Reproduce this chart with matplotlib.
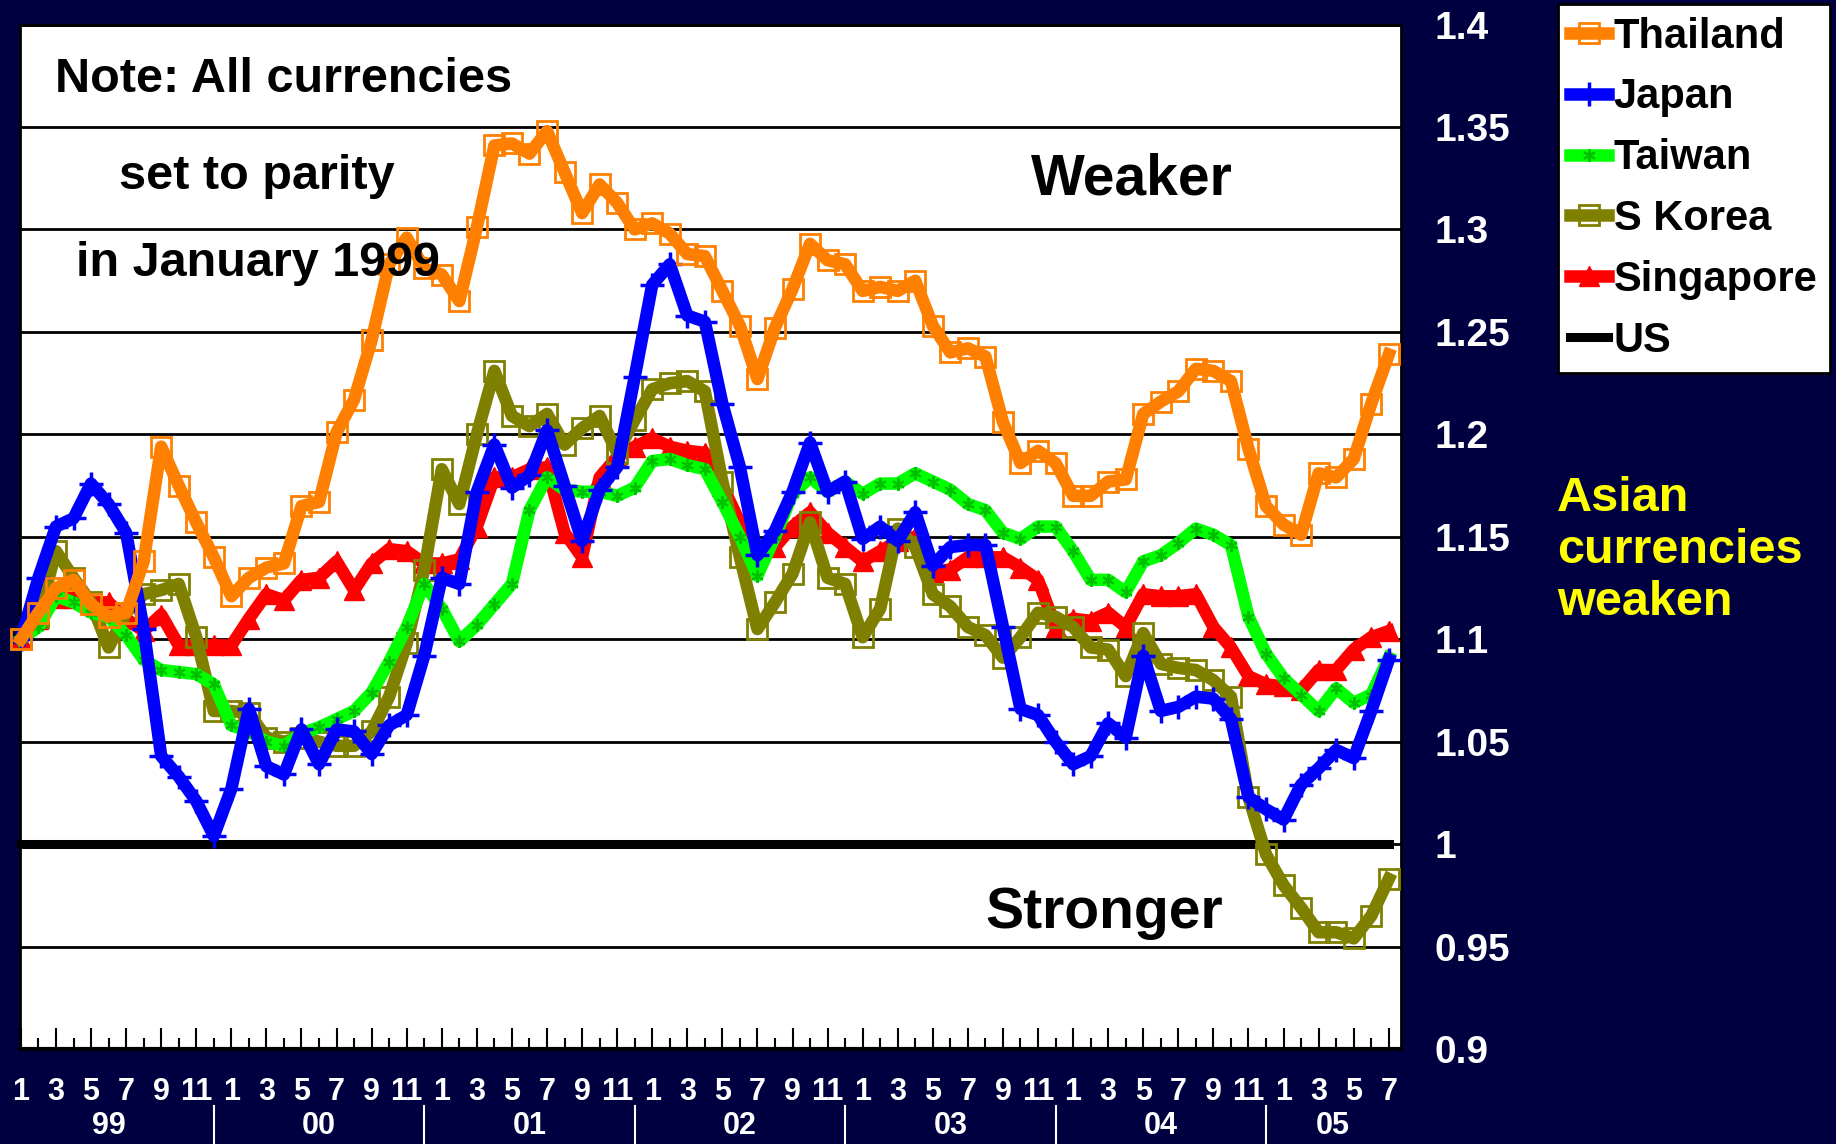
import numpy as np
import matplotlib
matplotlib.use('Agg')
import matplotlib.pyplot as plt
import matplotlib.transforms as mtransforms

plt.rcParams['font.family'] = ['Liberation Sans', 'DejaVu Sans']
plt.rcParams['font.weight'] = 'bold'

# monthly index, Jan 1999 = parity (plotted at 1.1), through Jul 2005
month_labels = ['1', '3', '5', '7', '9', '11']
year_labels = ['99', '00', '01', '02', '03', '04', '05']
year_label_pos = [5, 17, 29, 41, 53, 65, 74.8]
ytick_vals = [0.9, 0.95, 1.0, 1.05, 1.1, 1.15, 1.2, 1.25, 1.3, 1.35, 1.4]
ytick_labels = ['0.9', '0.95', '1', '1.05', '1.1', '1.15', '1.2', '1.25', '1.3', '1.35', '1.4']

thailand = [1.100, 1.113, 1.125, 1.129, 1.117, 1.111, 1.113, 1.138, 1.194, 1.175,
            1.157, 1.140, 1.121, 1.130, 1.135, 1.137, 1.165, 1.167, 1.201, 1.217,
            1.246, 1.283, 1.296, 1.281, 1.278, 1.265, 1.301, 1.341, 1.342, 1.337,
            1.348, 1.328, 1.308, 1.322, 1.313, 1.300, 1.303, 1.298, 1.288, 1.287,
            1.270, 1.253, 1.227, 1.252, 1.271, 1.293, 1.285, 1.283, 1.270, 1.272,
            1.270, 1.275, 1.253, 1.240, 1.242, 1.238, 1.206, 1.186, 1.192, 1.186,
            1.170, 1.170, 1.177, 1.178, 1.210, 1.216, 1.221, 1.232, 1.231, 1.226,
            1.193, 1.165, 1.156, 1.151, 1.181, 1.179, 1.188, 1.215, 1.239]

japan = [1.100, 1.130, 1.155, 1.159, 1.176, 1.166, 1.152, 1.105, 1.043, 1.033,
         1.021, 1.004, 1.027, 1.066, 1.038, 1.034, 1.056, 1.039, 1.056, 1.055,
         1.044, 1.058, 1.063, 1.092, 1.130, 1.127, 1.172, 1.195, 1.174, 1.180,
         1.202, 1.175, 1.148, 1.173, 1.184, 1.228, 1.273, 1.283, 1.258, 1.255,
         1.215, 1.184, 1.141, 1.153, 1.172, 1.196, 1.172, 1.177, 1.149, 1.155,
         1.148, 1.162, 1.136, 1.145, 1.146, 1.146, 1.106, 1.066, 1.063, 1.050,
         1.039, 1.043, 1.059, 1.052, 1.092, 1.065, 1.067, 1.072, 1.071, 1.061,
         1.023, 1.017, 1.012, 1.029, 1.037, 1.046, 1.042, 1.065, 1.090]

taiwan = [1.100, 1.106, 1.121, 1.118, 1.113, 1.111, 1.102, 1.090, 1.085, 1.084,
          1.083, 1.078, 1.058, 1.055, 1.050, 1.048, 1.054, 1.057, 1.061, 1.065,
          1.074, 1.089, 1.106, 1.127, 1.115, 1.099, 1.107, 1.117, 1.127, 1.163,
          1.179, 1.173, 1.172, 1.172, 1.170, 1.174, 1.187, 1.188, 1.185, 1.183,
          1.167, 1.150, 1.131, 1.150, 1.171, 1.179, 1.172, 1.177, 1.171, 1.176,
          1.176, 1.181, 1.177, 1.173, 1.166, 1.163, 1.152, 1.149, 1.155, 1.155,
          1.143, 1.129, 1.129, 1.123, 1.138, 1.141, 1.147, 1.154, 1.151, 1.146,
          1.111, 1.093, 1.081, 1.073, 1.065, 1.076, 1.069, 1.073, 1.091]

s_korea = [1.100, 1.111, 1.143, 1.130, 1.118, 1.096, 1.113, 1.122, 1.124, 1.127,
           1.101, 1.065, 1.065, 1.064, 1.052, 1.050, 1.052, 1.050, 1.048, 1.048,
           1.055, 1.072, 1.098, 1.134, 1.183, 1.166, 1.200, 1.231, 1.209, 1.204,
           1.210, 1.195, 1.203, 1.209, 1.191, 1.207, 1.222, 1.225, 1.226, 1.221,
           1.177, 1.140, 1.105, 1.118, 1.132, 1.157, 1.130, 1.127, 1.101, 1.115,
           1.154, 1.145, 1.122, 1.116, 1.106, 1.102, 1.091, 1.101, 1.113, 1.111,
           1.106, 1.096, 1.095, 1.082, 1.103, 1.088, 1.086, 1.085, 1.080, 1.072,
           1.023, 0.995, 0.980, 0.969, 0.957, 0.957, 0.954, 0.965, 0.983]

singapore = [1.100, 1.110, 1.120, 1.120, 1.118, 1.118, 1.110, 1.104, 1.112, 1.097,
             1.097, 1.097, 1.097, 1.110, 1.122, 1.119, 1.129, 1.130, 1.138, 1.124,
             1.137, 1.144, 1.143, 1.137, 1.137, 1.139, 1.155, 1.179, 1.179, 1.183,
             1.184, 1.152, 1.140, 1.179, 1.189, 1.194, 1.198, 1.194, 1.192, 1.191,
             1.175, 1.157, 1.143, 1.145, 1.155, 1.162, 1.152, 1.145, 1.138, 1.143,
             1.148, 1.150, 1.133, 1.134, 1.140, 1.140, 1.140, 1.135, 1.129, 1.106,
             1.110, 1.109, 1.113, 1.106, 1.122, 1.121, 1.121, 1.122, 1.106, 1.096,
             1.082, 1.078, 1.077, 1.075, 1.085, 1.085, 1.095, 1.101, 1.104]

us = [1.0] * 79

bg = '#000040'
x = np.arange(len(thailand))

fig = plt.figure(figsize=(18.36, 11.44), dpi=100, facecolor=bg)
ax = fig.add_axes([0.0109, 0.083, 0.7522, 0.8955])
ax.set_facecolor('white')

lw = 9
h_us, = ax.plot(x, us, color='black', lw=6.5, zorder=2, clip_on=False)
h_sg, = ax.plot(x, singapore, color='#FF0000', lw=lw, marker='^', ms=14,
                mfc='#FF0000', mec='#FF0000', zorder=3, clip_on=False)
h_kr, = ax.plot(x, s_korea, color='#808000', lw=lw, marker='s', ms=14,
                mfc='none', mec='#808000', mew=2, zorder=4, clip_on=False)
h_tw, = ax.plot(x, taiwan, color='#00FF00', lw=lw, marker=(6, 2, 0), ms=9,
                mec='#00C000', mew=1.5, zorder=5, clip_on=False)
h_jp, = ax.plot(x, japan, color='#0000FF', lw=lw, marker='+', ms=17,
                mew=2.5, zorder=6, clip_on=False)
h_th, = ax.plot(x, thailand, color='#FF8000', lw=lw, marker='s', ms=14,
                mfc='none', mec='#FF8000', mew=2, zorder=7, clip_on=False)

ax.set_xlim(-0.05, 78.7)
ax.set_ylim(0.9, 1.4)

# y axis on the right, white labels
ax.yaxis.tick_right()
ax.set_yticks(ytick_vals)
ax.set_yticklabels(ytick_labels)
ax.tick_params(axis='y', length=0, pad=24, labelsize=28, labelcolor='white')
for t in ax.get_yticklabels():
    t.set_fontweight('bold')
ax.yaxis.grid(True, color='black', lw=2)
ax.set_axisbelow(True)

# x axis: monthly ticks, labels on odd months
ax.set_xticks(x[::2])
ax.set_xticklabels([month_labels[i % 6] for i in range(len(x[::2]))],
                   family=['Liberation Sans Narrow', 'Liberation Sans'])
ax.set_xticks(x[1::2], minor=True)
ax.tick_params(axis='x', which='major', direction='in', length=15, width=1.5,
               color='black', pad=20, labelsize=22, labelcolor='white')
ax.tick_params(axis='x', which='minor', direction='in', length=8, width=1.5,
               color='black')

for s in ax.spines.values():
    s.set_color('black')
    s.set_linewidth(2)
ax.spines['bottom'].set_linewidth(3)

# year labels and separators below the month labels
trans = mtransforms.blended_transform_factory(ax.transData, ax.transAxes)
for k in range(6):
    xs = 11 + 12 * k
    ax.plot([xs, xs], [-0.056, -0.093], transform=trans, color='white',
            lw=1.5, clip_on=False)
for pos, lab in zip(year_label_pos, year_labels):
    ax.text(pos, -0.075, lab, transform=trans, ha='center', va='center',
            color='white', fontsize=22, fontweight='bold',
            family=['Liberation Sans Narrow', 'Liberation Sans'])

# annotations inside the plot
ax.text(1.95, 1.373, 'Note: All currencies', fontsize=35, fontweight='bold',
        ha='left', va='center', zorder=10)
ax.text(5.6, 1.326, 'set to parity', fontsize=35, fontweight='bold',
        ha='left', va='center', zorder=10)
ax.text(3.15, 1.2836, 'in January 1999', fontsize=35, fontweight='bold',
        ha='left', va='center', zorder=10)
ax.text(57.6, 1.3246, 'Weaker', fontsize=41, fontweight='bold',
        ha='left', va='center', zorder=10)
ax.text(54.97, 0.9664, 'Stronger', fontsize=41, fontweight='bold',
        ha='left', va='center', zorder=10)

fig.text(0.848, 0.519, 'Asian\ncurrencies\nweaken', color='#FFFF00',
         fontsize=35, fontweight='bold', ha='left', va='center',
         linespacing=1.2)

leg = fig.legend([h_th, h_jp, h_tw, h_kr, h_sg, h_us],
                 ['Thailand', 'Japan', 'Taiwan', 'S Korea', 'Singapore', 'US'],
                 loc='upper right', bbox_to_anchor=(1830 / 1836, 1 - 4 / 1144),
                 bbox_transform=fig.transFigure, fontsize=30, numpoints=1,
                 frameon=True, fancybox=False, shadow=False, borderpad=0.3,
                 handlelength=0.9, handletextpad=0.15, labelspacing=0.5,
                 borderaxespad=0)
leg.get_frame().set_edgecolor('black')
leg.get_frame().set_linewidth(2)
leg.get_frame().set_facecolor('white')
leg.get_frame().set_alpha(1)
for t in leg.get_texts():
    t.set_fontweight('bold')

fig.savefig('out.png', dpi=100, facecolor=bg)
